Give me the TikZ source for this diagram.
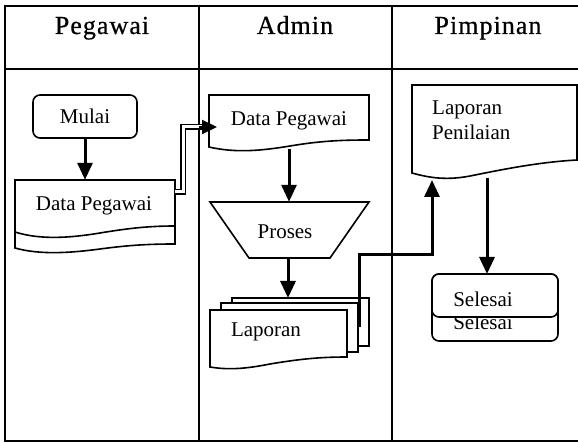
\documentclass[tikz,border=0pt]{standalone}
\usepackage{fontspec}
\setmainfont{Liberation Serif}
\newfontfamily\hdrfont{Liberation Serif}[LetterSpace=4,FakeBold=0.6]
\usetikzlibrary{arrows.meta,calc}
\begin{document}
\begin{tikzpicture}[x=1pt,y=-1pt,
  lane/.style={line width=2.2pt},
  shp/.style={line width=1.6pt},
  lbl/.style={font=\fontsize{21}{25}\selectfont, inner sep=0pt},
  hdr/.style={font=\hdrfont\fontsize{26}{30}\selectfont, inner sep=0pt, anchor=base},
  area/.style={inner sep=0pt, minimum width=#1},
  flow/.style={line width=3pt, -{Triangle[length=17pt,width=15pt]}},
]
\useasboundingbox (0,0) rectangle (578,443);
% swimlanes
\draw[lane] (578,6) -- (5,6) -- (5,441) -- (578,441);
\draw[lane] (5,69) -- (578,69);
\draw[lane] (199,6) -- (199,441);
\draw[lane] (392,6) -- (392,441);
\node[hdr] (h1) at (102,34) {Pegawai};
\node[hdr] (h2) at (295,34) {Admin};
\node[hdr] (h3) at (488,34) {Pimpinan};

% Mulai
\node[draw, shp, rounded corners=7pt, minimum width=104, minimum height=43, lbl] (mulai) at (85,116.5) {Mulai};

% Data Pegawai (Pegawai lane)
\node[area=160, minimum height=68] (dp1) at (95,214) {};
\draw[shp] (15,232) -- (15,180) -- (175,180) -- (175,226);
\draw[shp] (15,232) .. controls (40,240) and (70,238) .. (100,233) .. controls (130,228) and (150,226) .. (175,226);
\draw[shp] (15,232) -- (15,248) .. controls (40,255) and (70,253) .. (100,249) .. controls (130,245) and (150,244) .. (175,244) -- (175,226);
\node[lbl] (dp1t) at (94,206) {Data Pegawai};

% Data Pegawai (Admin lane)
\node[area=160, minimum height=56] (dp2) at (289,123) {};
\draw[shp] (209,147) -- (209,95) -- (369,95) -- (369,140) .. controls (340,140) and (320,141) .. (290,146) .. controls (260,151) and (235,153) .. (209,147) -- cycle;
\node[lbl] (dp2t) at (289,121) {Data Pegawai};

% Proses
\node[area=159, minimum height=56] (proses) at (289.5,230) {};
\draw[shp] (210,202) -- (369,202) -- (330,258) -- (249,258) -- cycle;
\node[lbl] (prosest) at (285,232) {Proses};

% Laporan (multi document)
\node[area=159, minimum height=72] (lap) at (289.5,334) {};
\draw[shp, fill=white] (232,346) -- (232,298) -- (369,298) -- (369,346) -- cycle;
\draw[shp, fill=white] (221,352) -- (221,303) -- (358,303) -- (358,352) -- cycle;
\draw[shp, fill=white] (210,367) -- (210,310) -- (347,310) -- (347,357) .. controls (320,357) and (300,359) .. (270,364) .. controls (245,369) and (228,370) .. (210,367) -- cycle;
\node[lbl] (lapt) at (266,332) {Laporan};

% Laporan Penilaian
\node[area=165, minimum height=95] (lp) at (494.5,132.5) {};
\draw[shp] (412,173) -- (412,85) -- (577,85) -- (577,160) .. controls (540,162) and (505,169) .. (475,175) .. controls (448,181) and (430,178) .. (412,173) -- cycle;
\node[lbl, align=left, anchor=west, font=\fontsize{21}{25}\selectfont] (lpt) at (432,120.5) {Laporan\\Penilaian};

% Selesai (two stacked terminators)
\node[draw, shp, rounded corners=7pt, minimum width=126, minimum height=67, inner sep=0pt] (sel2) at (495,307.5) {};
\node[lbl] (sel2t) at (483,322) {Selesai};
\node[draw, shp, fill=white, rounded corners=7pt, minimum width=126, minimum height=43, lbl] (sel) at (495,295.5) {};
\node[lbl] (selt) at (483,299) {Selesai};

% connectors
\draw[flow] (mulai.south) -- (mulai.south |- dp1.north);

\coordinate (c1) at (175,192);
\coordinate (c2) at (183,192);
\coordinate (c3) at (183,127);
\coordinate (c4) at (203,127);
\coordinate (c5) at (217,127);
\draw[line width=1.3pt, double distance=3pt] (c1) -- (c2) -- (c3) -- (c4);
\draw[line width=2pt, -{Triangle[length=15pt,width=14pt]}] (199,127) -- (c5);

\draw[flow] (289,149) -- (proses.north -| 289,0);
\draw[flow] (288,258) -- (288,298);

\coordinate (d1) at (359,327);
\coordinate (d2) at (359,255);
\coordinate (d3) at (432,255);
\coordinate (d4) at (432,180);
\draw[flow] (d1) -- (d2) -- (d3) -- (d4);

\draw[flow] (487,178) -- (487,274);
\end{tikzpicture}
\end{document}
